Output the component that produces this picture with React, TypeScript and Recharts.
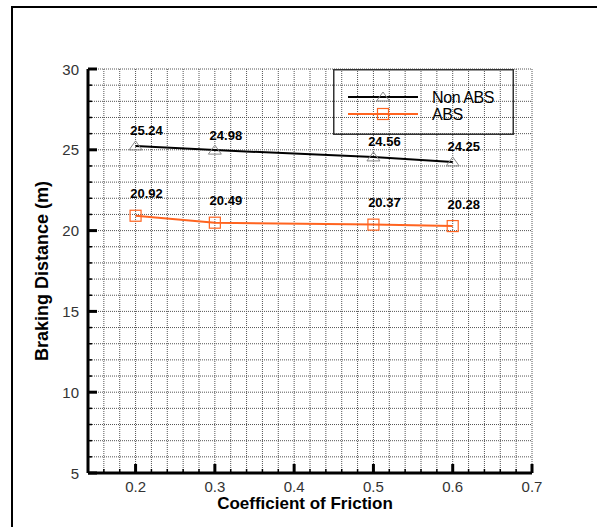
import { LineChart, Line, XAxis, YAxis, CartesianGrid, Legend, LabelList } from 'recharts';

const frictionCoef = [0.2, 0.3, 0.5, 0.6];
const nonAbsDistance = [25.24, 24.98, 24.56, 24.25];
const absDistance = [20.92, 20.49, 20.37, 20.28];
const seriesNames = ['Non ABS', 'ABS'];

// every grid step; labels only on the major ones
const xTicks = [0.14, 0.16, 0.18, 0.2, 0.22, 0.24, 0.26, 0.28, 0.3, 0.32, 0.34, 0.36, 0.38, 0.4, 0.42, 0.44, 0.46, 0.48, 0.5, 0.52, 0.54, 0.56, 0.58, 0.6, 0.62, 0.64, 0.66, 0.68, 0.7];
const yTicks = [5, 6, 7, 8, 9, 10, 11, 12, 13, 14, 15, 16, 17, 18, 19, 20, 21, 22, 23, 24, 25, 26, 27, 28, 29, 30];

const FONT = '"Liberation Sans", Arial, sans-serif';
const ORANGE = '#ff6420';

const chartData = frictionCoef.map((x, i) => ({
  x,
  nonAbs: nonAbsDistance[i],
  abs: absDistance[i],
}));

const isMajorX = (v: number) => Math.abs(v * 10 - Math.round(v * 10)) < 1e-6;

function XTick({ x, y, payload }: any) {
  const major = isMajorX(payload.value);
  return (
    <g>
      <line x1={x} x2={x} y1={y} y2={y - (major ? 9 : 4)} stroke="#000" strokeWidth={major ? 3 : 1.5} />
      {major && (
        <text x={x} y={y + 13} textAnchor="middle" dominantBaseline="central" fontSize={15} fill="#333" fontFamily={FONT}>
          {payload.value.toFixed(1)}
        </text>
      )}
    </g>
  );
}

function YTick({ x, y, payload }: any) {
  const major = payload.value % 5 === 0;
  return (
    <g>
      <line x1={x} x2={x + (major ? 9 : 4)} y1={y} y2={y} stroke="#000" strokeWidth={major ? 3 : 1.5} />
      {major && (
        <text x={x - 9} y={y} textAnchor="end" dominantBaseline="central" fontSize={15} fill="#333" fontFamily={FONT}>
          {payload.value}
        </text>
      )}
    </g>
  );
}

function Triangle({ cx, cy, stroke = '#888' }: any) {
  if (cx == null || cy == null) return null;
  return <polygon points={`${cx - 6.5},${cy + 4} ${cx + 6.5},${cy + 4} ${cx},${cy - 5}`} fill="none" stroke={stroke} strokeWidth={1} />;
}

function Square({ cx, cy }: any) {
  if (cx == null || cy == null) return null;
  return <rect x={cx - 5.5} y={cy - 5.5} width={11} height={11} fill="none" stroke={ORANGE} strokeWidth={1.2} />;
}

const makeValueLabel = (dx: number, dy: number) => (props: any) => {
  const { x, y, value } = props;
  return (
    <text x={x + dx} y={y + dy} textAnchor="middle" dominantBaseline="central" fontSize={13} fontWeight="bold" fill="#000" fontFamily={FONT}>
      {value.toFixed(2)}
    </text>
  );
};

function LegendBox({ payload }: any) {
  const items = [...(payload || [])].sort((a: any, b: any) => seriesNames.indexOf(a.value) - seriesNames.indexOf(b.value));
  return (
    <svg width={181} height={66} style={{ display: 'block' }}>
      <rect x={0.75} y={0.75} width={179.5} height={64.5} fill="none" stroke="#333" strokeWidth={1.5} />
      {items.map((entry: any, i: number) => {
        const cy = 28 + i * 17;
        return (
          <g key={entry.value}>
            <line x1={15} x2={85} y1={cy} y2={cy} stroke={entry.color} strokeWidth={2} />
            {entry.value === 'Non ABS' ? <Triangle cx={50} cy={cy} /> : <Square cx={50} cy={cy} />}
            <text x={99} y={cy} dominantBaseline="central" fontSize={16} fill="#000" fontFamily={FONT} letterSpacing={-0.4}>
              {entry.value}
            </text>
          </g>
        );
      })}
    </svg>
  );
}

export default function App() {
  return (
    <div style={{ position: 'absolute', left: 0, top: 0, width: 597, height: 527, overflow: 'hidden', background: '#fff', fontFamily: FONT }}>
      <div style={{ position: 'absolute', left: 11, top: 6, width: 620, height: 560, borderLeft: '2px solid #000', borderTop: '2px solid #000' }} />
      <div style={{ position: 'absolute', left: 0, top: 0 }}>
        <LineChart width={597} height={527} data={chartData} margin={{ top: 69, right: 65, bottom: 0, left: 0 }}>
          <CartesianGrid stroke="#555" strokeDasharray="1 1" strokeWidth={1} />
          <XAxis
            type="number"
            dataKey="x"
            domain={[0.14, 0.7]}
            ticks={xTicks}
            interval={0}
            allowDataOverflow
            height={54}
            tickSize={0}
            tickMargin={0}
            tickLine={false}
            axisLine={{ stroke: '#000', strokeWidth: 3 }}
            tick={<XTick />}
            label={{
              content: ({ viewBox }: any) => (
                <text x={viewBox.x + viewBox.width / 2 - 5} y={viewBox.y + 30} textAnchor="middle" dominantBaseline="central" fontSize={17} fontWeight="bold" fill="#000" fontFamily={FONT}>
                  Coefficient of Friction
                </text>
              ),
            }}
          />
          <YAxis
            type="number"
            domain={[5, 30]}
            ticks={yTicks}
            interval={0}
            allowDataOverflow
            width={88}
            tickSize={0}
            tickMargin={0}
            tickLine={false}
            axisLine={{ stroke: '#000', strokeWidth: 3 }}
            tick={<YTick />}
            label={{
              content: ({ viewBox }: any) => {
                const cx = viewBox.x + 42;
                const cy = viewBox.y + viewBox.height / 2;
                return (
                  <text x={cx} y={cy} transform={`rotate(-90 ${cx} ${cy})`} textAnchor="middle" dominantBaseline="central" fontSize={18} fontWeight="bold" fill="#000" fontFamily={FONT}>
                    Braking Distance (m)
                  </text>
                );
              },
            }}
          />
          <Legend
            layout="vertical"
            align="center"
            verticalAlign="middle"
            wrapperStyle={{ position: 'absolute', left: 333, top: 69, width: 181, height: 66 }}
            content={<LegendBox />}
          />
          <Line
            name="Non ABS"
            dataKey="nonAbs"
            stroke="#000"
            strokeWidth={2}
            dot={(p: any) => <Triangle key={`t${p.index}`} cx={p.cx} cy={p.cy} />}
            activeDot={false}
            isAnimationActive={false}
          >
            <LabelList dataKey="nonAbs" content={makeValueLabel(11, -15)} />
          </Line>
          <Line
            name="ABS"
            dataKey="abs"
            stroke={ORANGE}
            strokeWidth={2}
            dot={(p: any) => <Square key={`s${p.index}`} cx={p.cx} cy={p.cy} />}
            activeDot={false}
            isAnimationActive={false}
          >
            <LabelList dataKey="abs" content={makeValueLabel(11, -22)} />
          </Line>
        </LineChart>
      </div>
    </div>
  );
}
